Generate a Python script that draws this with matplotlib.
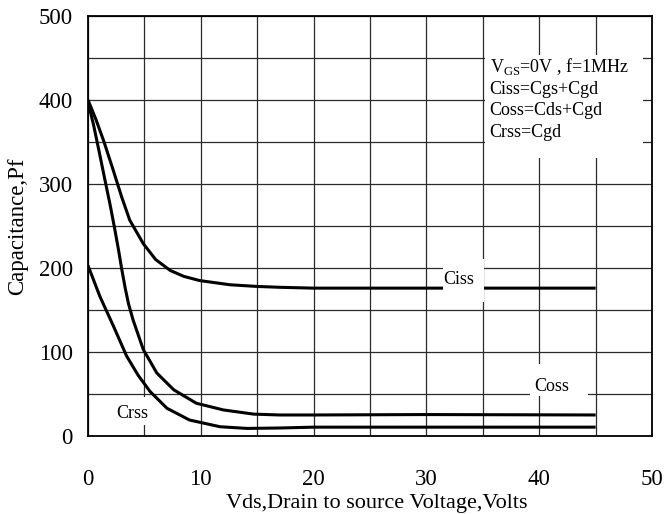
import matplotlib
matplotlib.use("Agg")
import matplotlib.pyplot as plt
from matplotlib.patches import Rectangle
from matplotlib.ticker import MultipleLocator

plt.rcParams['font.family'] = ['Liberation Serif', 'DejaVu Serif']
plt.rcParams['mathtext.fontset'] = 'custom'
plt.rcParams['mathtext.rm'] = 'Liberation Serif'

# --- curve data (Vds in volts, C in pF) ---
ciss_v = [0, 0.7, 1.4, 2.2, 3.0, 3.7, 4.9, 6.0, 7.3, 8.5, 9.9, 12.6, 15, 17, 20, 25, 30, 35, 40, 45]
ciss_c = [400, 377, 351, 318, 284, 257, 229, 210, 197, 190, 185, 180, 178, 177, 176, 176, 176, 176, 176, 176]

coss_v = [0, 0.5, 1.06, 1.5, 1.95, 2.35, 2.7, 3.0, 3.3, 3.6, 4.0, 4.9, 6.1, 7.6, 9.6, 12, 14.7, 17, 20, 30, 45]
coss_c = [398, 370, 334, 305, 276, 248, 222, 198, 176, 157, 138, 103, 75, 55, 39, 31, 26, 25, 25, 25.5, 25]

crss_v = [0, 1.06, 2.25, 3.43, 4.46, 5.5, 7.0, 9.0, 11.7, 14.1, 17, 20, 30, 45]
crss_c = [203, 166, 131, 95, 72, 53, 33, 19, 11, 9, 9.5, 10.5, 10.5, 10.5]

x_ticks = [0, 10, 20, 30, 40, 50]
y_ticks = [0, 100, 200, 300, 400, 500]
notes = [r'V$_{\mathrm{GS}}$=0V , f=1MHz', 'Ciss=Cgs+Cgd', 'Coss=Cds+Cgd', 'Crss=Cgd']

fig = plt.figure(figsize=(6.65, 5.14), dpi=100)
ax = fig.add_axes([0.1323, 0.1518, 0.8482, 0.8171])

for v, c in [(ciss_v, ciss_c), (coss_v, coss_c), (crss_v, crss_c)]:
    ax.plot(v, c, color='black', lw=2.2, zorder=2, solid_capstyle='butt', solid_joinstyle='round')

ax.set_xlim(0, 50)
ax.set_ylim(0, 500)
ax.set_xticks(x_ticks)
ax.set_yticks(y_ticks)
ax.xaxis.set_minor_locator(MultipleLocator(5))
ax.yaxis.set_minor_locator(MultipleLocator(50))
ax.set_axisbelow(True)
ax.grid(which='both', color='#2a2a2a', lw=0.9)
ax.tick_params(which='both', length=0, labelsize=16.5)
ax.tick_params(axis='x', pad=24)
ax.tick_params(axis='y', pad=11)
for s in ax.spines.values():
    s.set_linewidth(1.3)

# white boxes behind the labels (they cut the grid and the Ciss curve)
ax.add_patch(Rectangle((35.2, 331), 14.0, 123, facecolor='white', edgecolor='none', zorder=3))
ax.add_patch(Rectangle((31.5, 159), 3.6, 52, facecolor='white', edgecolor='none', zorder=3))
ax.add_patch(Rectangle((39.2, 48), 5.15, 38, facecolor='white', edgecolor='none', zorder=3))
ax.add_patch(Rectangle((2.6, 13), 2.8, 33, facecolor='white', edgecolor='none', zorder=3))

for i, t in enumerate(notes):
    ax.text(35.6, [440, 413, 388, 361][i], t, fontsize=13, va='center', ha='left', zorder=4)

ax.text(32.9, 186, 'Ciss', fontsize=13, ha='center', va='center', zorder=4)
ax.text(41.1, 59, 'Coss', fontsize=13, ha='center', va='center', zorder=4)
ax.text(3.95, 27, 'Crss', fontsize=13, ha='center', va='center', zorder=4)

ax.set_xlabel('Vds,Drain to source Voltage,Volts', fontsize=16)
ax.xaxis.set_label_coords(0.512, -0.139)
ax.set_ylabel('Capacitance,Pf', fontsize=16.5)
ax.yaxis.set_label_coords(-0.106, 0.5)

fig.savefig('out.png', dpi=100)
